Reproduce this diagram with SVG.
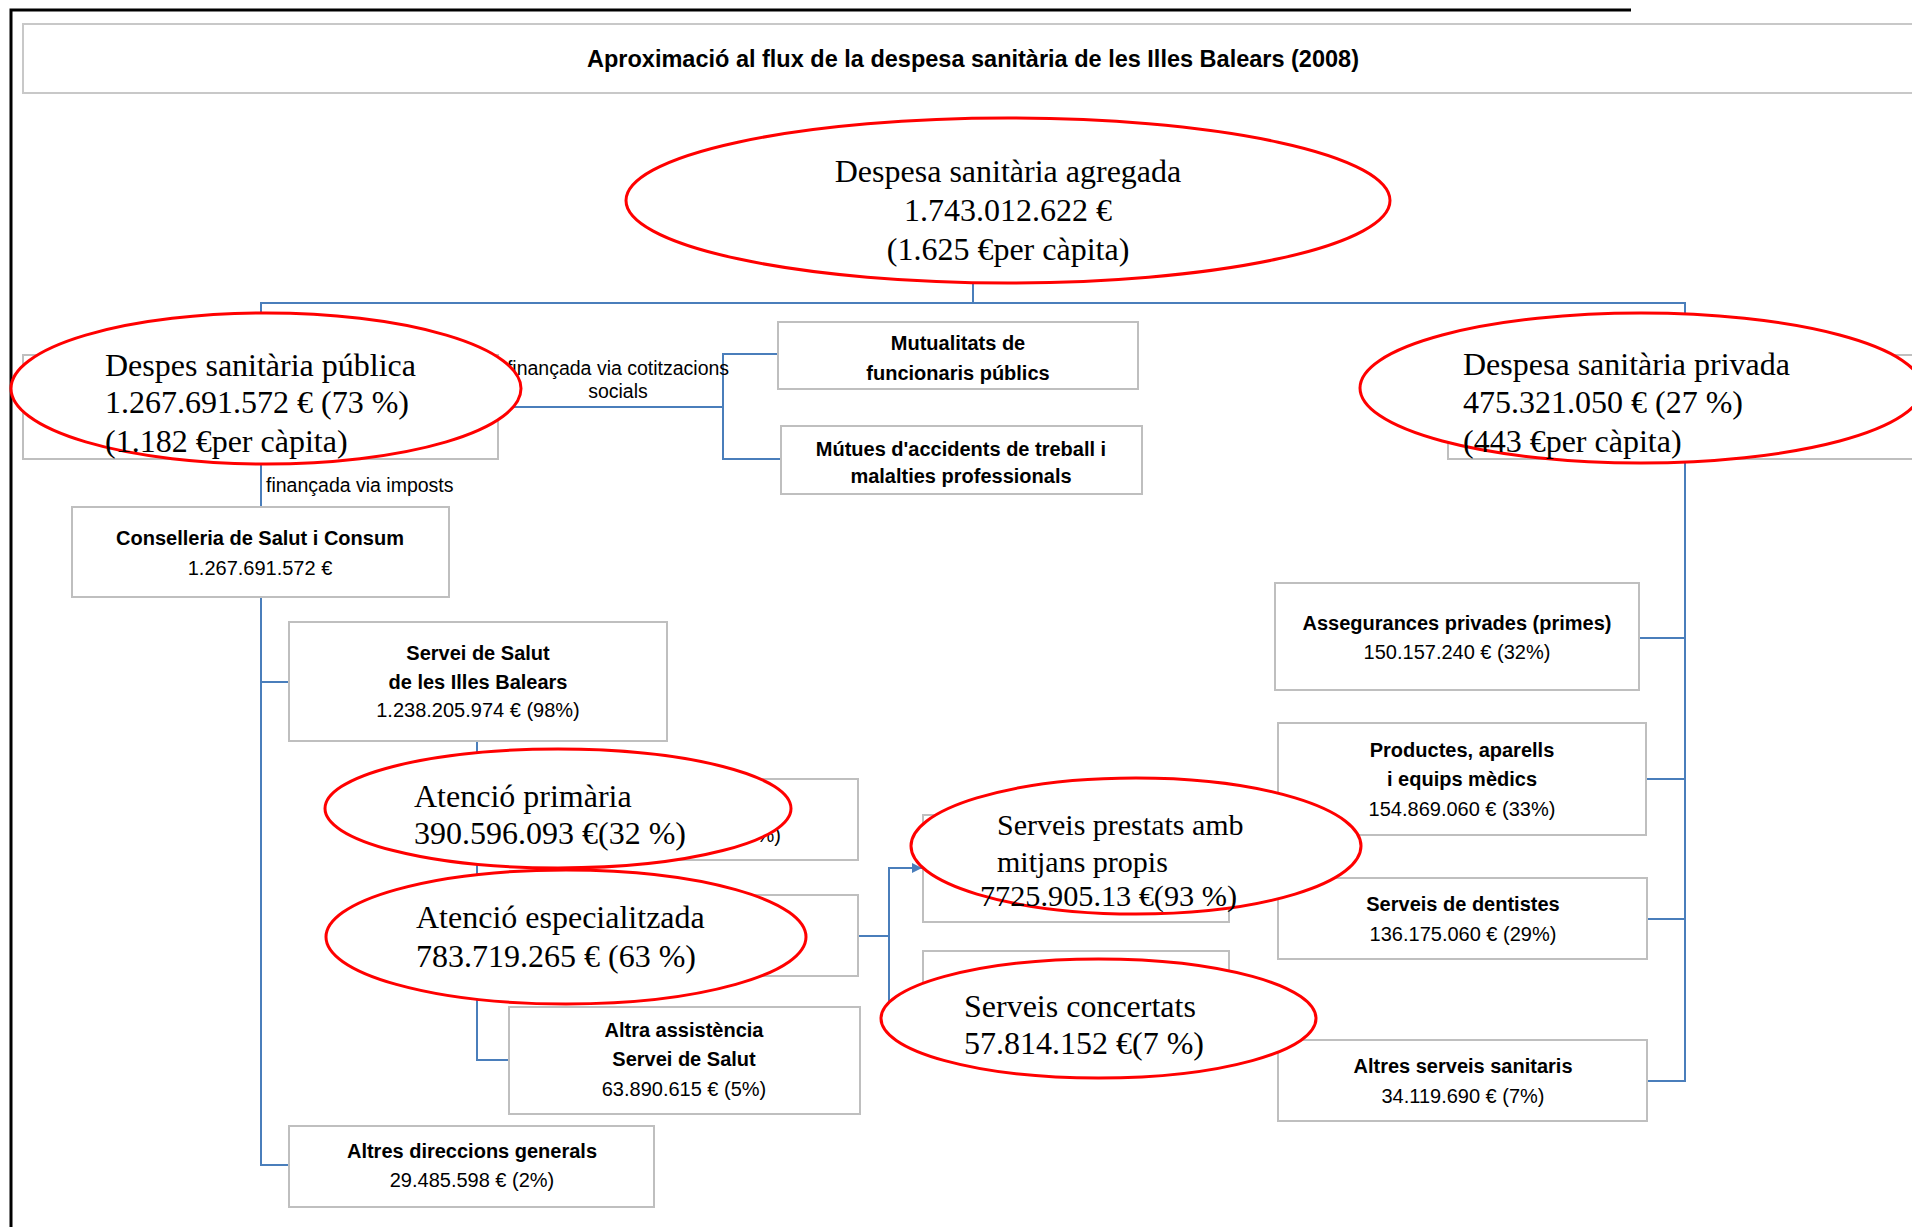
<svg xmlns="http://www.w3.org/2000/svg" width="1912" height="1227" viewBox="0 0 1912 1227">
<defs>
<style>
.box{fill:#fff;stroke:#bfbfbf;stroke-width:2}
.conn{fill:none;stroke:#4a7ebb;stroke-width:2}
.ell{fill:#fff;stroke:#ff0000;stroke-width:3}
.et{font-family:"Liberation Serif","Times New Roman",serif;font-size:32px;fill:#000}
.bt{font-family:"Liberation Sans",Arial,sans-serif;font-size:20px;font-weight:bold;text-anchor:middle;fill:#000}
.vt{font-family:"Liberation Sans",Arial,sans-serif;font-size:20px;text-anchor:middle;fill:#000}
.lbl{font-family:"Liberation Sans",Arial,sans-serif;font-size:19.5px;fill:#000}
</style>
<marker id="arr" markerUnits="userSpaceOnUse" markerWidth="10" markerHeight="10" viewBox="0 0 10 10" refX="10" refY="5" orient="auto">
<path d="M0,0 L10,5 L0,10 z" fill="#4a7ebb"/>
</marker>
</defs>
<rect width="1912" height="1227" fill="#fff"/>
<g id="frame">
<path d="M11,1227 V10 H1631" fill="none" stroke="#000" stroke-width="3"/>
</g>
<g id="title">
<rect x="23" y="24" width="1900" height="69" fill="#fff" stroke="#c8c8c8" stroke-width="2"/>
<text x="973" y="67" font-family="'Liberation Sans',Arial,sans-serif" font-size="23.5" font-weight="bold" text-anchor="middle">Aproximació al flux de la despesa sanitària de les Illes Balears (2008)</text>
</g>
<g id="connectors">
<path class="conn" d="M973,283 V303"/>
<path class="conn" d="M261,313 V303 H1685 V1081 H1647"/>
<path class="conn" d="M1639,638 H1685"/>
<path class="conn" d="M1646,779 H1685"/>
<path class="conn" d="M1647,919 H1685"/>
<path class="conn" d="M261,459 V507"/>
<path class="conn" d="M261,597 V1165 H289"/>
<path class="conn" d="M261,682 H289"/>
<path class="conn" d="M477,741 V1060 H509"/>
<path class="conn" d="M500,407 H723"/>
<path class="conn" d="M778,354 H723 V459 H781"/>
<path class="conn" d="M858,936 H889"/>
<path class="conn" d="M923,1004 H889 V868 H922" marker-end="url(#arr)"/>
</g>
<g id="label-cotitzacions">
<text class="lbl" x="618" y="375" text-anchor="middle">finançada via cotitzacions</text>
<text class="lbl" x="618" y="398" text-anchor="middle">socials</text>
</g>
<g id="label-imposts">
<text class="lbl" x="266" y="492">finançada via imposts</text>
</g>
<g id="mutualitats">
<rect class="box" x="778" y="322" width="360" height="67"/>
<text class="bt" x="958" y="350">Mutualitats de</text>
<text class="bt" x="958" y="380">funcionaris públics</text>
</g>
<g id="mutues">
<rect class="box" x="781" y="426" width="361" height="68"/>
<text class="bt" x="961" y="456">Mútues d'accidents de treball i</text>
<text class="bt" x="961" y="483">malalties professionals</text>
</g>
<g id="conselleria">
<rect class="box" x="72" y="507" width="377" height="90"/>
<text class="bt" x="260" y="545">Conselleria de Salut i Consum</text>
<text class="vt" x="260" y="575">1.267.691.572 €</text>
</g>
<g id="servei-salut">
<rect class="box" x="289" y="622" width="378" height="119"/>
<text class="bt" x="478" y="660">Servei de Salut</text>
<text class="bt" x="478" y="689">de les Illes Balears</text>
<text class="vt" x="478" y="717">1.238.205.974 € (98%)</text>
</g>
<g id="altra-assistencia">
<rect class="box" x="509" y="1007" width="351" height="107"/>
<text class="bt" x="684" y="1037">Altra assistència</text>
<text class="bt" x="684" y="1066">Servei de Salut</text>
<text class="vt" x="684" y="1096">63.890.615 € (5%)</text>
</g>
<g id="altres-direccions">
<rect class="box" x="289" y="1126" width="365" height="81"/>
<text class="bt" x="472" y="1158">Altres direccions generals</text>
<text class="vt" x="472" y="1187">29.485.598 € (2%)</text>
</g>
<g id="assegurances">
<rect class="box" x="1275" y="583" width="364" height="107"/>
<text class="bt" x="1457" y="630">Assegurances privades (primes)</text>
<text class="vt" x="1457" y="659">150.157.240 € (32%)</text>
</g>
<g id="productes">
<rect class="box" x="1278" y="723" width="368" height="112"/>
<text class="bt" x="1462" y="757">Productes, aparells</text>
<text class="bt" x="1462" y="786">i equips mèdics</text>
<text class="vt" x="1462" y="816">154.869.060 € (33%)</text>
</g>
<g id="dentistes">
<rect class="box" x="1278" y="878" width="369" height="81"/>
<text class="bt" x="1463" y="911">Serveis de dentistes</text>
<text class="vt" x="1463" y="941">136.175.060 € (29%)</text>
</g>
<g id="altres-serveis">
<rect class="box" x="1278" y="1040" width="369" height="81"/>
<text class="bt" x="1463" y="1073">Altres serveis sanitaris</text>
<text class="vt" x="1463" y="1103">34.119.690 € (7%)</text>
</g>
<g id="box-atencio-primaria">
<rect class="box" x="509" y="779" width="349" height="81"/>
<text class="vt" x="781" y="842" text-anchor="end" style="text-anchor:end">%)</text>
</g>
<g id="box-atencio-especialitzada">
<rect class="box" x="509" y="895" width="349" height="81"/>
</g>
<g id="box-serveis-prestats">
<rect class="box" x="923" y="815" width="306" height="107"/>
</g>
<g id="box-serveis-concertats">
<rect class="box" x="923" y="951" width="306" height="89"/>
</g>
<g id="box-publica">
<rect class="box" x="23" y="355" width="475" height="104"/>
</g>
<g id="box-privada">
<rect class="box" x="1448" y="355" width="480" height="104"/>
</g>
<g id="agregada">
<ellipse class="ell" cx="1008" cy="200.5" rx="382" ry="82.5"/>
<text class="et" x="1008" y="182" text-anchor="middle">Despesa sanitària agregada</text>
<text class="et" x="1008" y="221" text-anchor="middle">1.743.012.622 €</text>
<text class="et" x="1008" y="260" text-anchor="middle">(1.625 €per càpita)</text>
</g>
<g id="publica">
<ellipse class="ell" cx="266" cy="388.5" rx="255" ry="75.5"/>
<text class="et" x="105" y="376">Despes sanitària pública</text>
<text class="et" x="105" y="413">1.267.691.572 € (73 %)</text>
<text class="et" x="105" y="452">(1.182 €per càpita)</text>
</g>
<g id="privada">
<ellipse class="ell" cx="1641" cy="388" rx="281" ry="75"/>
<text class="et" x="1463" y="375">Despesa sanitària privada</text>
<text class="et" x="1463" y="413">475.321.050 € (27 %)</text>
<text class="et" x="1463" y="452">(443 €per càpita)</text>
</g>
<g id="atencio-primaria">
<ellipse class="ell" cx="558" cy="808.5" rx="233" ry="59.5"/>
<text class="et" x="414" y="807">Atenció primària</text>
<text class="et" x="414" y="844">390.596.093 €(32 %)</text>
</g>
<g id="atencio-especialitzada">
<ellipse class="ell" cx="566" cy="937" rx="240" ry="67"/>
<text class="et" x="416" y="928">Atenció especialitzada</text>
<text class="et" x="416" y="967">783.719.265 € (63 %)</text>
</g>
<g id="serveis-prestats">
<ellipse class="ell" cx="1136" cy="846" rx="225" ry="68"/>
<text class="et" x="997" y="835" style="font-size:30px">Serveis prestats amb</text>
<text class="et" x="997" y="872" style="font-size:30px">mitjans propis</text>
<text class="et" x="980" y="906" style="font-size:30px" textLength="257" lengthAdjust="spacingAndGlyphs">7725.905.13 €(93 %)</text>
</g>
<g id="serveis-concertats">
<ellipse class="ell" cx="1098.5" cy="1018.5" rx="217.5" ry="59.5"/>
<text class="et" x="964" y="1017">Serveis concertats</text>
<text class="et" x="964" y="1054">57.814.152 €(7 %)</text>
</g>
</svg>
